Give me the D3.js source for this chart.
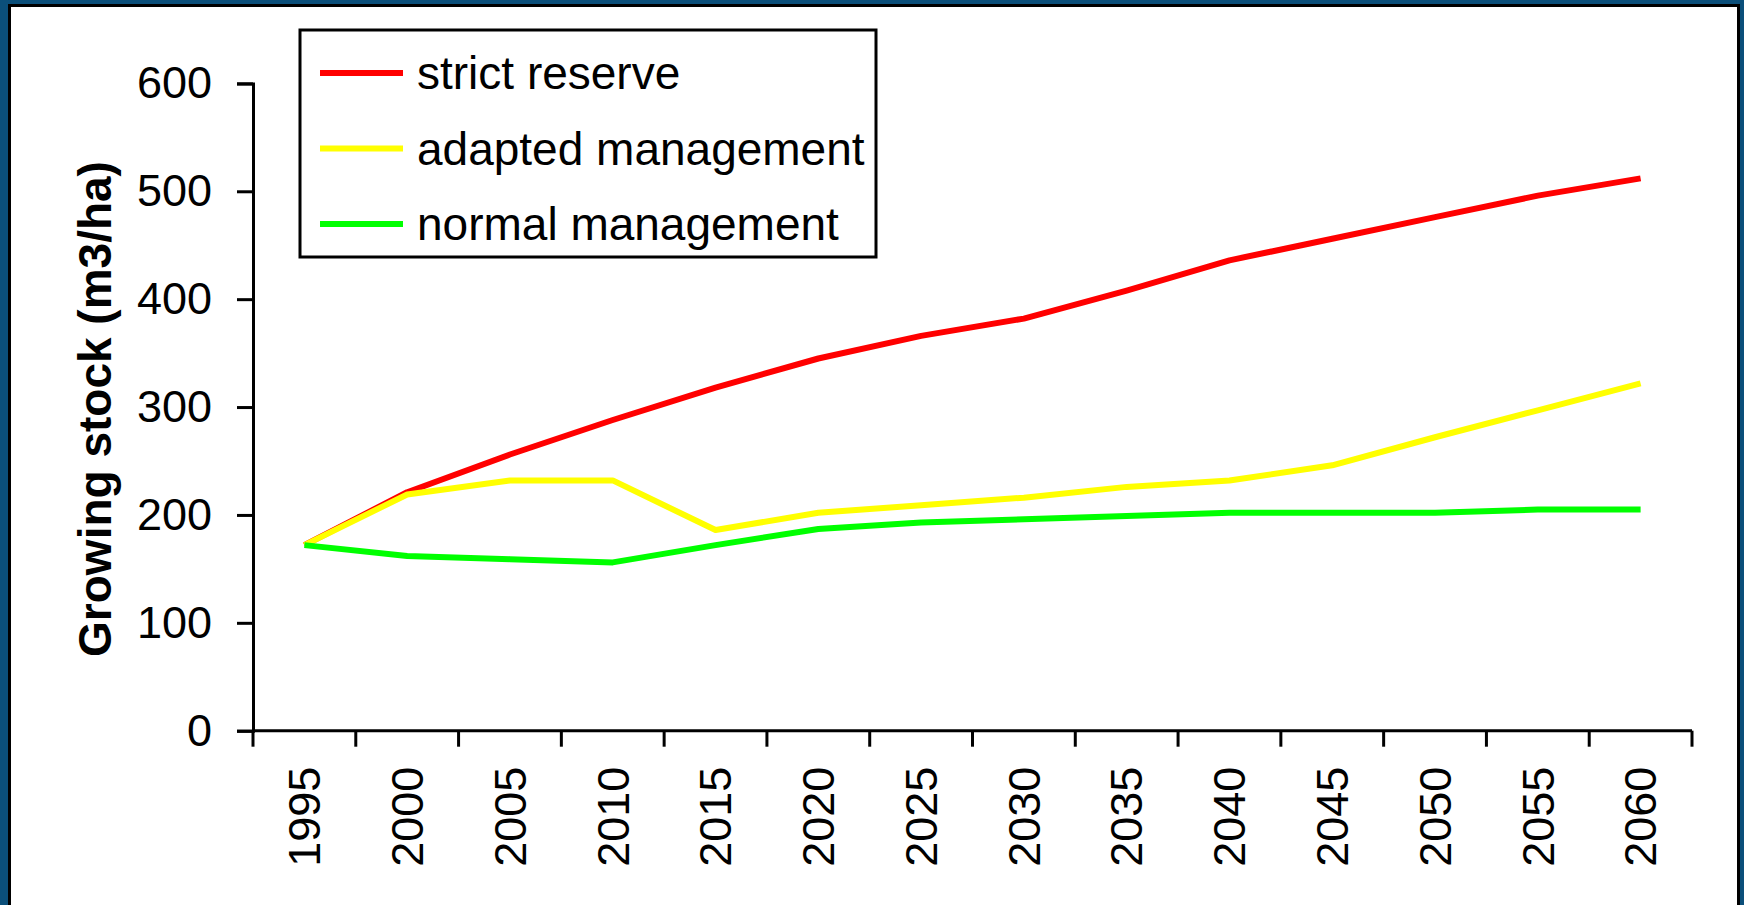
<!DOCTYPE html>
<html>
<head>
<meta charset="utf-8">
<script src="https://cdn.jsdelivr.net/npm/d3@7"></script>
<style>
  html, body { margin: 0; padding: 0; background: #0b4f7a; }
  svg { display: block; }
  text { font-family: "Liberation Sans", Arial, sans-serif; fill: #000; }
</style>
</head>
<body>
<svg id="chart" width="1744" height="905"></svg>
<script>
// Growing stock projections per management scenario, 1995–2060
const years = [1995, 2000, 2005, 2010, 2015, 2020, 2025, 2030, 2035, 2040, 2045, 2050, 2055, 2060];
const strictReserve = [172, 221, 256, 288, 318, 345, 366, 382, 408, 436, 456, 476, 496, 512];
const adaptedManagement = [172, 219, 232, 232, 186, 202, 209, 216, 226, 232, 246, 272, 297, 322];
const normalManagement = [172, 162, 159, 156, 172, 187, 193, 196, 199, 202, 202, 202, 205, 205];
const yTicks = [0, 100, 200, 300, 400, 500, 600];
const seriesNames = ["strict reserve", "adapted management", "normal management"];
const seriesColors = ["#ff0000", "#ffff00", "#00ff00"];

const series = [strictReserve, adaptedManagement, normalManagement].map((values, i) => ({
  name: seriesNames[i],
  color: seriesColors[i],
  values: years.map((yr, j) => ({ year: yr, value: values[j] }))
}));

const svg = d3.select("#chart");

// Panel: blue surround, white plate with black frame
svg.append("rect").attr("x", 0).attr("y", 0).attr("width", 1744).attr("height", 905).attr("fill", "#0b4f7a");
svg.append("rect").attr("x", 9.5).attr("y", 5.5).attr("width", 1729).attr("height", 1000)
  .attr("fill", "#fff").attr("stroke", "#000").attr("stroke-width", 3);

const plot = { left: 253, right: 1692, top: 83.4, bottom: 730.7 };

// Category axis: each year occupies a band, ticks sit on band edges
const x = d3.scaleBand().domain(years).range([plot.left, plot.right]).padding(0);
const y = d3.scaleLinear().domain([0, 600]).range([plot.bottom, plot.top]);
const edge = d3.scaleLinear().domain([0, years.length]).range([plot.left, plot.right]);

// Y axis
const yAxis = svg.append("g")
  .attr("transform", `translate(${plot.left},0)`)
  .call(d3.axisLeft(y).tickValues(yTicks).tickSize(16).tickPadding(25).tickFormat(d3.format("d")));
yAxis.select(".domain").attr("stroke", "#000").attr("stroke-width", 3);
yAxis.selectAll(".tick line").attr("stroke", "#000").attr("stroke-width", 3);
yAxis.selectAll(".tick text")
  .style("font-family", '"Liberation Sans", Arial, sans-serif')
  .style("font-size", "45px").attr("fill", "#000");

// X axis line and band-edge ticks
const xAxis = svg.append("g");
xAxis.append("line")
  .attr("x1", edge(0)).attr("x2", edge(years.length))
  .attr("y1", y(0)).attr("y2", y(0))
  .attr("stroke", "#000").attr("stroke-width", 3);
xAxis.selectAll("line.tick")
  .data(d3.range(years.length + 1))
  .join("line")
  .attr("class", "tick")
  .attr("x1", d => edge(d)).attr("x2", d => edge(d))
  .attr("y1", y(0)).attr("y2", y(0) + 16)
  .attr("stroke", "#000").attr("stroke-width", 3);
xAxis.selectAll("text")
  .data(years)
  .join("text")
  .attr("transform", d => `translate(${x(d) + x.bandwidth() / 2},${y(0) + 36}) rotate(-90)`)
  .attr("text-anchor", "end")
  .attr("dy", "0.35em")
  .style("font-size", "45px")
  .text(d => d);

// Y axis title
svg.append("text")
  .attr("transform", `translate(111,409) rotate(-90)`)
  .attr("text-anchor", "middle")
  .style("font-size", "46px")
  .style("font-weight", "bold")
  .text("Growing stock (m3/ha)");

// Series lines, drawn in legend order so later series sit on top
const line = d3.line()
  .x(d => x(d.year) + x.bandwidth() / 2)
  .y(d => y(d.value));

svg.append("g").selectAll("path")
  .data(series)
  .join("path")
  .attr("d", d => line(d.values))
  .attr("fill", "none")
  .attr("stroke", d => d.color)
  .attr("stroke-width", 6)
  .attr("stroke-linejoin", "round");

// Legend
const legend = svg.append("g");
legend.append("rect")
  .attr("x", 300).attr("y", 30).attr("width", 576).attr("height", 227)
  .attr("fill", "#fff").attr("stroke", "#000").attr("stroke-width", 3);
const rows = legend.selectAll("g.row")
  .data(series)
  .join("g")
  .attr("class", "row")
  .attr("transform", (d, i) => `translate(0,${73 + i * 75.5})`);
rows.append("line")
  .attr("x1", 320).attr("x2", 403).attr("y1", 0).attr("y2", 0)
  .attr("stroke", d => d.color).attr("stroke-width", 6);
rows.append("text")
  .attr("x", 417).attr("dy", "0.35em")
  .style("font-size", "46px")
  .text(d => d.name);
</script>
</body>
</html>
